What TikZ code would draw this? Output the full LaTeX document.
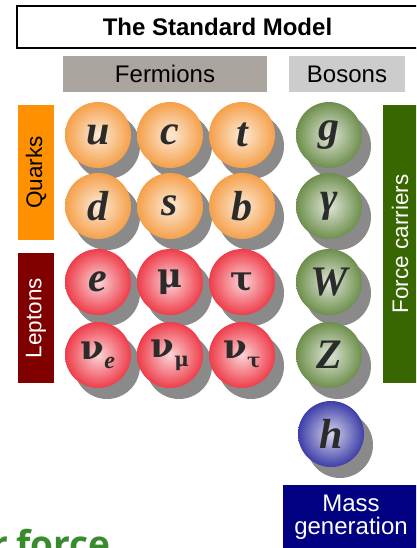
\documentclass[tikz,border=0pt]{standalone}
\usepackage{fontspec}
\setmainfont{Liberation Sans}
\newfontfamily\symfont{Liberation Serif}
\newfontfamily\greekfont{DejaVu Serif}
\newfontfamily\slidefont{Open Sans}
\usetikzlibrary{shadows}
\definecolor{qorange}{HTML}{F5A04A}
\definecolor{lred}{HTML}{EE3D4A}
\definecolor{bgreen}{HTML}{6E8F4C}
\definecolor{hblue}{HTML}{3E3EA8}
\definecolor{quarkbox}{HTML}{FF9000}
\definecolor{leptonbox}{HTML}{800000}
\definecolor{forcebox}{HTML}{386600}
\definecolor{massbox}{HTML}{000080}
\definecolor{fermbox}{HTML}{ABA59F}
\definecolor{bosbox}{HTML}{CCCCCC}
\definecolor{symtext}{HTML}{2B2B2B}
\definecolor{slidegreen}{HTML}{3A8A2E}
\newcommand{\grk}[1]{{\greekfont\fontsize{34}{34}\selectfont #1}}
\begin{document}
\begin{tikzpicture}[x=1pt,y=-1pt,
  sph/.style={circle, minimum size=66pt, inner sep=0pt, shading=radial,
    inner color=#1!22!white, outer color=#1,
    drop shadow={shadow xshift=9pt, shadow yshift=-11pt, fill=black!46, opacity=1},
    text=symtext, font=\fontsize{42}{42}\selectfont\symfont\bfseries},
  head/.style={inner sep=0pt, font=\fontsize{24}{24}\selectfont},
  side/.style={inner sep=0pt, rotate=90, font=\fontsize{22.5}{22.5}\selectfont},
  slidetext/.style={inner sep=0pt, text=slidegreen, font=\fontsize{37}{37}\selectfont\slidefont\bfseries}]
\useasboundingbox (0,0) rectangle (416,548);
\clip (0,0) rectangle (416,548);
\node[draw=black, line width=2.5pt, minimum width=401pt, minimum height=42pt, inner sep=0pt,
  font=\fontsize{24}{24}\selectfont\bfseries] (title) at (217.5,27) {The Standard Model};
\node[head, fill=fermbox, minimum width=204pt, minimum height=36pt] (ferm) at (165,74) {Fermions};
\node[head, fill=bosbox, minimum width=116pt, minimum height=36pt] (bos) at (347,74) {Bosons};
\node[side, fill=quarkbox, text=black, minimum width=135pt, minimum height=36pt] (quarks) at (36,172.5) {Quarks};
\node[side, fill=leptonbox, text=white, minimum width=130pt, minimum height=36pt] (leptons) at (36,318) {Leptons};
\node[side, fill=forcebox, text=white, minimum width=278pt, minimum height=34pt] (force) at (400,244) {Force carriers};
\node[head, fill=massbox, text=white, minimum width=136pt, minimum height=64pt, align=center,
  font=\fontsize{24}{23}\selectfont] (mass) at (351,517) {Mass\\generation};
% quarks
\node[sph=qorange] (u) at (98,135) {\itshape u};
\node[sph=qorange] (c) at (170,135) {\itshape c};
\node[sph=qorange] (t) at (242,135) {\itshape t};
\node[sph=bgreen] (g) at (329,135) {\itshape g};
\node[sph=qorange] (d) at (98,206) {\itshape d};
\node[sph=qorange] (s) at (170,206) {\itshape s};
\node[sph=qorange] (b) at (242,206) {\itshape b};
\node[sph=bgreen] (gam) at (329,206) {\itshape γ};
% leptons
\node[sph=lred] (e) at (98,282) {\itshape e};
\node[sph=lred] (mu) at (170,282) {\grk{μ}};
\node[sph=lred] (tau) at (242,282) {\grk{τ}};
\node[sph=bgreen] (W) at (329,282) {\itshape W};
\node[sph=lred] (nue) at (98,355) {\grk{ν}\raisebox{-9pt}{\fontsize{24}{24}\selectfont\itshape e}};
\node[sph=lred] (numu) at (170,355) {\grk{ν}\raisebox{-9pt}{\greekfont\fontsize{20}{20}\selectfont μ}};
\node[sph=lred] (nutau) at (242,355) {\grk{ν}\raisebox{-9pt}{\greekfont\fontsize{20}{20}\selectfont τ}};
\node[sph=bgreen] (Z) at (329,355) {\itshape Z};
\node[sph=hblue] (h) at (331,434) {\itshape h};
% slide text cut off at bottom
\node[slidetext, anchor=base east] (slide1) at (9,557) {nuclear};
\node[slidetext, anchor=base west] (slide2) at (16,557) {force};
\end{tikzpicture}
\end{document}
